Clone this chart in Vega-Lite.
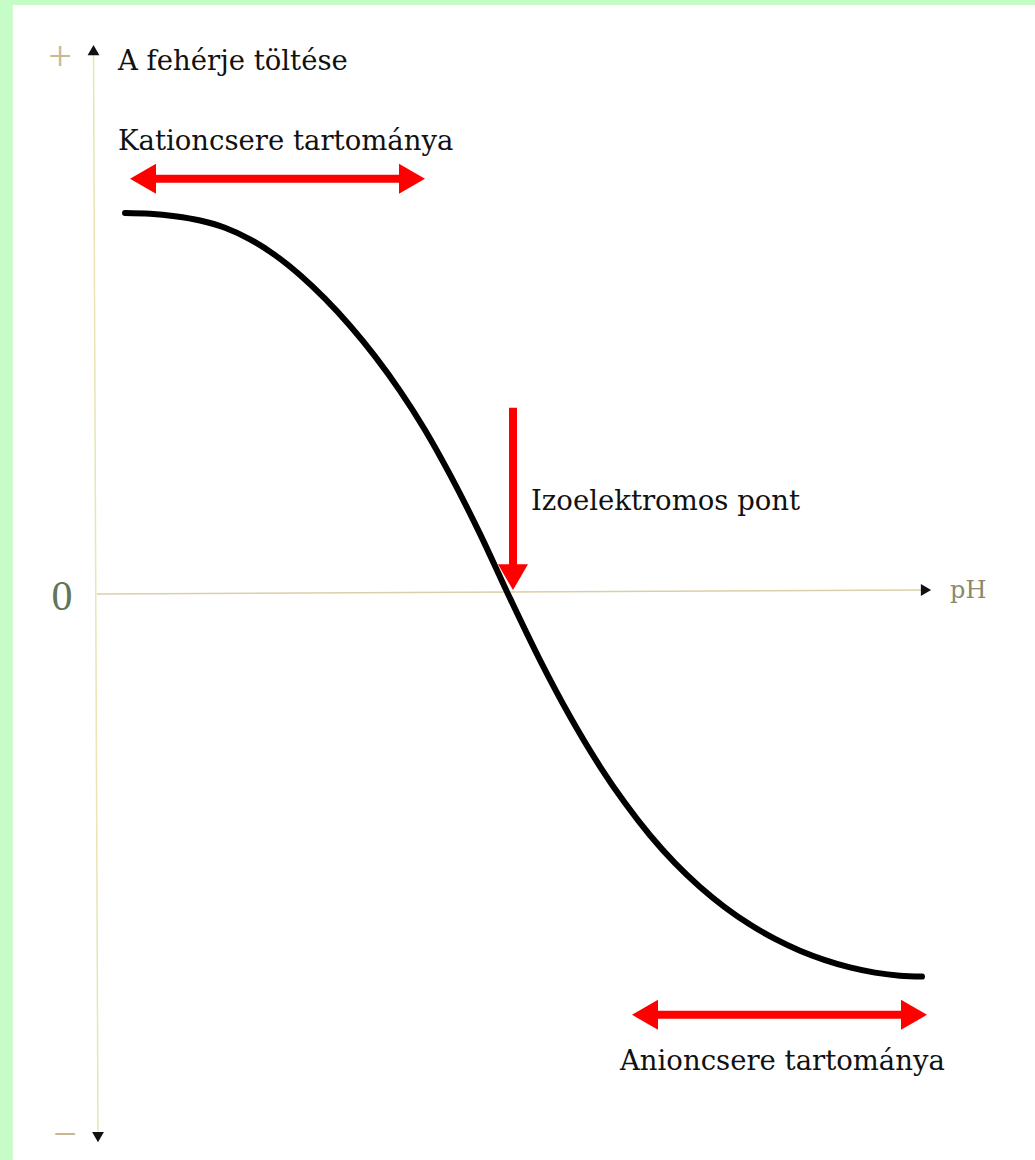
{
  "$schema": "https://vega.github.io/schema/vega-lite/v6.json",
  "width": 1035,
  "height": 1160,
  "padding": 0,
  "autosize": {"type": "fit", "contains": "padding"},
  "background": "#c6fcc6",
  "config": {"view": {"stroke": null}},
  "datasets": {
    "bg": [{"x": -1.425, "x2": 15.86, "y": -1.478, "y2": 1.538}],
    "vaxis": [{"x": -0.059, "y": 1.42, "x2": 0.017, "y2": -1.418}],
    "haxis": [{"x": 0.0, "y": 0.0, "x2": 13.95, "y2": 0.0104}],
    "curve": [
      {"x": 0.474, "y": 0.9948},
      {"x": 0.896, "y": 0.9927},
      {"x": 1.319, "y": 0.9862},
      {"x": 1.742, "y": 0.9752},
      {"x": 2.164, "y": 0.9564},
      {"x": 2.587, "y": 0.9261},
      {"x": 3.01, "y": 0.8849},
      {"x": 3.432, "y": 0.8329},
      {"x": 3.855, "y": 0.771},
      {"x": 4.278, "y": 0.7003},
      {"x": 4.701, "y": 0.6204},
      {"x": 5.123, "y": 0.5305},
      {"x": 5.546, "y": 0.4284},
      {"x": 5.969, "y": 0.3117},
      {"x": 6.476, "y": 0.1569},
      {"x": 6.949, "y": 0.0},
      {"x": 7.49, "y": -0.1727},
      {"x": 7.998, "y": -0.32},
      {"x": 8.505, "y": -0.4505},
      {"x": 8.928, "y": -0.546},
      {"x": 9.35, "y": -0.6301},
      {"x": 9.773, "y": -0.703},
      {"x": 10.196, "y": -0.7651},
      {"x": 10.618, "y": -0.8181},
      {"x": 11.041, "y": -0.8631},
      {"x": 11.464, "y": -0.9007},
      {"x": 11.886, "y": -0.9315},
      {"x": 12.309, "y": -0.956},
      {"x": 12.732, "y": -0.9751},
      {"x": 13.155, "y": -0.9887},
      {"x": 13.577, "y": -0.9968},
      {"x": 13.949, "y": -0.9991}
    ],
    "shafts": [
      {"x": 0.778, "y": 1.084, "x2": 5.326, "y2": 1.084},
      {"x": 9.266, "y": -1.099, "x2": 13.814, "y2": -1.099},
      {"x": 7.034, "y": 0.486, "x2": 7.034, "y2": 0.063}
    ],
    "redheads": [
      {"x": 0.778, "y": 1.084, "dir": "left"},
      {"x": 5.326, "y": 1.084, "dir": "right"},
      {"x": 9.266, "y": -1.099, "dir": "left"},
      {"x": 13.814, "y": -1.099, "dir": "right"},
      {"x": 7.034, "y": 0.044, "dir": "down"}
    ],
    "axisheads": [
      {"x": -0.059, "y": 1.42, "dir": "up"},
      {"x": 0.017, "y": -1.418, "dir": "down"},
      {"x": 14.017, "y": 0.0104, "dir": "right"}
    ],
    "labels": [
      {"x": 0.355, "y": 1.368, "text": "A fehérje töltése"},
      {"x": 0.355, "y": 1.159, "text": "Kationcsere tartománya"},
      {"x": 7.338, "y": 0.219, "text": "Izoelektromos pont"},
      {"x": 8.843, "y": -1.243, "text": "Anioncsere tartománya"}
    ],
    "signs": [
      {"x": -0.626, "y": 1.402, "text": "+"},
      {"x": -0.54, "y": -1.413, "text": "−"}
    ]
  },
  "encoding": {
    "x": {"field": "x", "type": "quantitative", "scale": {"domain": [-1.64, 15.86], "nice": false, "zero": false}, "axis": null},
    "y": {"field": "y", "type": "quantitative", "scale": {"domain": [-1.478, 1.551], "nice": false, "zero": false}, "axis": null}
  },
  "layer": [
    {
      "data": {"name": "bg"},
      "mark": {"type": "rect", "color": "#ffffff"},
      "encoding": {"x2": {"field": "x2"}, "y2": {"field": "y2"}}
    },
    {
      "data": {"name": "vaxis"},
      "mark": {"type": "rule", "color": "#e8e6b2", "strokeWidth": 1.5},
      "encoding": {"x2": {"field": "x2"}, "y2": {"field": "y2"}}
    },
    {
      "data": {"name": "haxis"},
      "mark": {"type": "rule", "color": "#d8d0a6", "strokeWidth": 1.5},
      "encoding": {"x2": {"field": "x2"}, "y2": {"field": "y2"}}
    },
    {
      "data": {"name": "curve"},
      "mark": {"type": "line", "color": "#000000", "strokeWidth": 6, "interpolate": "monotone", "strokeCap": "round"},
      "encoding": {"order": {"field": "x", "type": "quantitative"}}
    },
    {
      "data": {"name": "shafts"},
      "mark": {"type": "rule", "color": "#ff0000", "strokeWidth": 8},
      "encoding": {"x2": {"field": "x2"}, "y2": {"field": "y2"}}
    },
    {
      "data": {"name": "redheads"},
      "mark": {"type": "point", "filled": true, "color": "#ff0000", "opacity": 1, "size": 900},
      "encoding": {
        "shape": {"field": "dir", "type": "nominal", "legend": null,
          "scale": {"domain": ["left", "right", "down", "up"], "range": ["triangle-left", "triangle-right", "triangle-down", "triangle-up"]}}
      }
    },
    {
      "data": {"name": "axisheads"},
      "mark": {"type": "point", "filled": true, "color": "#111111", "opacity": 1, "size": 140},
      "encoding": {
        "shape": {"field": "dir", "type": "nominal", "legend": null,
          "scale": {"domain": ["left", "right", "down", "up"], "range": ["triangle-left", "triangle-right", "triangle-down", "triangle-up"]}}
      }
    },
    {
      "data": {"name": "labels"},
      "mark": {"type": "text", "font": "DejaVu Serif", "fontSize": 27.5, "align": "left", "baseline": "alphabetic", "color": "#111111"},
      "encoding": {"text": {"field": "text"}}
    },
    {
      "data": {"name": "signs"},
      "mark": {"type": "text", "font": "Liberation Serif", "fontSize": 42, "align": "center", "baseline": "middle", "color": "#c8b88e"},
      "encoding": {"text": {"field": "text"}}
    },
    {
      "data": {"values": [{"x": -0.592, "y": -0.008, "text": "0"}]},
      "mark": {"type": "text", "font": "Liberation Serif", "fontSize": 42, "align": "center", "baseline": "middle", "color": "#5f765a"},
      "encoding": {"text": {"field": "text"}}
    },
    {
      "data": {"values": [{"x": 14.423, "y": -0.01, "text": "pH"}]},
      "mark": {"type": "text", "font": "DejaVu Serif", "fontSize": 24, "align": "left", "baseline": "alphabetic", "color": "#8a8a68"},
      "encoding": {"text": {"field": "text"}}
    }
  ]
}
